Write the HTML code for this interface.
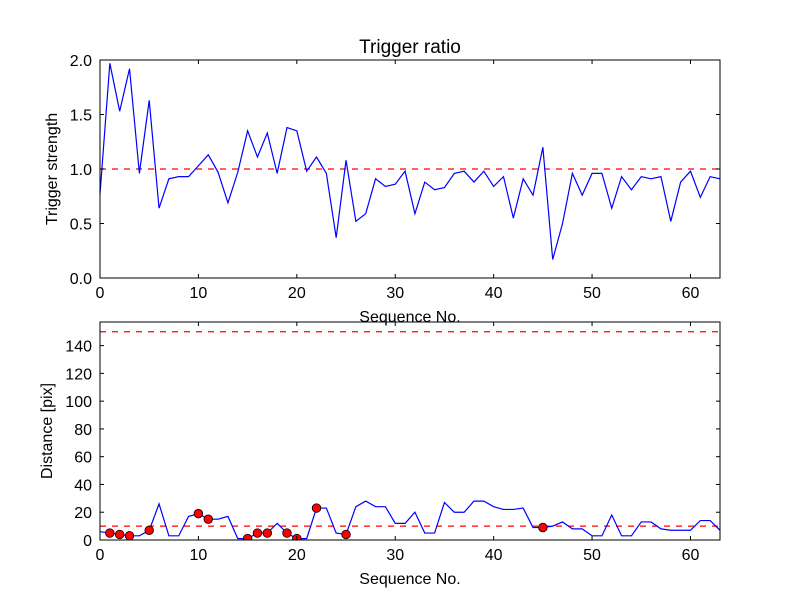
<!DOCTYPE html>
<html><head><meta charset="utf-8"><style>
body{margin:0;background:#fff}
svg text{font-family:"Liberation Sans","DejaVu Sans",sans-serif;fill:#000}
</style></head><body>
<svg id="c" width="800" height="600" xmlns="http://www.w3.org/2000/svg"></svg>
<script>
const ratioValues=[0.77,1.97,1.53,1.92,0.96,1.63,0.64,0.91,0.93,0.93,1.03,1.13,0.97,0.69,0.97,1.35,1.11,1.33,0.96,1.38,1.35,0.98,1.11,0.96,0.37,1.08,0.52,0.59,0.91,0.84,0.86,0.98,0.59,0.88,0.81,0.83,0.96,0.98,0.88,0.98,0.84,0.93,0.55,0.91,0.76,1.20,0.17,0.50,0.96,0.76,0.96,0.96,0.64,0.93,0.81,0.93,0.91,0.93,0.52,0.88,0.98,0.74,0.93,0.91];
const distanceValues=[6,5,4,3,3,7,26,3,3,17,19,15,15,17,1,1,5,5,12,5,1,1,23,23,5,4,24,28,24,24,12,12,20,5,5,27,20,20,28,28,24,22,22,23,9,9,10,13,8,8,3,3,18,3,3,13,13,8,7,7,7,14,14,7];
const flaggedIdx=[1,2,3,5,10,11,15,16,17,19,20,22,25,45];
const ratioThreshold=1.0;
const distThresholds=[10,150];
const xTicks=[0,10,20,30,40,50,60];
const ratioTicks=[0,0.5,1.0,1.5,2.0];
const distTicks=[0,20,40,60,80,100,120,140];
const NS="http://www.w3.org/2000/svg";
const svg=document.getElementById('c');
function mk(t,a,p){const e=document.createElementNS(NS,t);for(const k in a)e.setAttribute(k,a[k]);(p||svg).appendChild(e);return e;}
const X0=100,X1=720,XMAX=63;
const sx=v=>X0+v/XMAX*(X1-X0);
function panel(name,top,bot,ymax,vals,ticks,fmt,thr,ylabel,title,ylx){
  const sy=v=>bot-v/ymax*(bot-top);
  const g=mk('g',{});
  
  
  const clipId=name+'-clip';
  const cp=mk('clipPath',{id:clipId},g);mk('rect',{x:X0,y:top,width:X1-X0,height:bot-top},cp);
  const inner=mk('g',{'clip-path':'url(#'+clipId+')'},g);
  thr.forEach(t=>{const l=mk('line',{x1:X0,x2:X1,y1:sy(t),y2:sy(t),stroke:'#f00','stroke-width':1.2,'stroke-dasharray':'6,6'},inner);
    
    });
  const pl=mk('polyline',{points:vals.map((v,i)=>sx(i)+','+sy(v)).join(' '),fill:'none',stroke:'#00f','stroke-width':1.2},inner);
  
  
  if(name==='distance-panel'){flaggedIdx.forEach(i=>{const c=mk('circle',{cx:sx(i),cy:sy(vals[i]),r:4.3,fill:'#f00',stroke:'#000','stroke-width':0.8},inner);
    
    });}
  mk('rect',{x:X0,y:top,width:X1-X0,height:bot-top,fill:'none',stroke:'#000','stroke-width':1},g);
  xTicks.forEach(t=>{const x=sx(t);mk('line',{x1:x,x2:x,y1:bot,y2:bot-4,stroke:'#000'},g);mk('line',{x1:x,x2:x,y1:top,y2:top+4,stroke:'#000'},g);
    const tx=mk('text',{x:x,y:bot+20,'text-anchor':'middle','font-size':16},g);tx.textContent=t;
    
    });
  ticks.forEach(t=>{const y=sy(t);mk('line',{x1:X0,x2:X0+4,y1:y,y2:y,stroke:'#000'},g);mk('line',{x1:X1,x2:X1-4,y1:y,y2:y,stroke:'#000'},g);
    const tx=mk('text',{x:X0-8,y:y+6,'text-anchor':'end','font-size':16},g);tx.textContent=fmt(t);
    
    });
  const xl=mk('text',{x:(X0+X1)/2,y:bot+44,'text-anchor':'middle','font-size':16},g);xl.textContent='Sequence No.';
  
  
  const yl=mk('text',{transform:'translate('+ylx+','+(top+bot)/2+') rotate(-90)','text-anchor':'middle','font-size':16},g);yl.textContent=ylabel;
  
  
  if(title){const tt=mk('text',{x:(X0+X1)/2,y:top-7,'text-anchor':'middle','font-size':19},g);tt.textContent=title;
    
    }
}
panel('ratio-panel',60,278,2.0,ratioValues,ratioTicks,t=>t.toFixed(1),[ratioThreshold],'Trigger strength','Trigger ratio',57);
panel('distance-panel',322,540,157,distanceValues,distTicks,t=>String(t),distThresholds,'Distance [pix]',null,52);
</script>
</body></html>
